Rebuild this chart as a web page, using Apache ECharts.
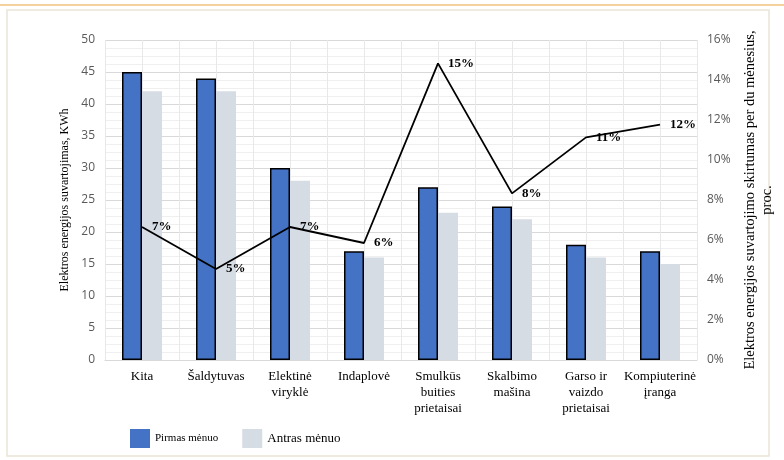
<!DOCTYPE html>
<html>
<head>
<meta charset="utf-8">
<script src="https://cdn.jsdelivr.net/npm/echarts@6/dist/echarts.min.js"></script>
<style>
html,body{margin:0;padding:0;background:#fff;}
#c{width:784px;height:460px;}
</style>
</head>
<body>
<div id="c"></div>
<script>
const categories = ["Kita", "Šaldytuvas", "Elektinė\nviryklė", "Indaplovė", "Smulkūs\nbuities\nprietaisai", "Skalbimo\nmašina", "Garso ir\nvaizdo\nprietaisai", "Kompiuterinė\nįranga"];
const firstMonth = [45, 44, 30, 17, 27, 24, 18, 17];
const secondMonth = [42, 42, 28, 16, 23, 22, 16, 15];
const diffPercent = [6.65, 4.55, 6.65, 5.85, 14.83, 8.33, 11.13, 11.77];
const leftTicks = {min: 0, max: 50, interval: 5};
const rightTicks = {min: 0, max: 16, interval: 2};

const serif = 'Liberation Serif';
const sans = 'Open Sans';
const halfSlots = [];
for (let i = 0; i < categories.length * 2; i++) halfSlots.push('');

const chart = echarts.init(document.getElementById('c'));
chart.setOption({
  animation: false,
  backgroundColor: '#fff',
  graphic: [
    {type: 'line', shape: {x1: 0, y1: 5, x2: 784, y2: 5}, style: {stroke: '#f5c27a', lineWidth: 1.5}},
    {type: 'rect', shape: {x: 7, y: 10, width: 762, height: 446}, style: {fill: 'none', stroke: '#ebe5d8', lineWidth: 1.5}}
  ],
  legend: {
    data: ['Pirmas mėnuo', 'Antras mėnuo'],
    left: 125, top: 424,
    itemWidth: 20, itemHeight: 19, itemGap: 24,
    icon: 'rect',
    itemStyle: {borderWidth: 0},
    formatter: function (name) {
      return name === 'Pirmas mėnuo' ? '{s|' + name + '}' : '{b|' + name + '}';
    },
    textStyle: {
      fontFamily: serif, color: '#000',
      rich: {s: {fontFamily: serif, fontSize: 11, color: '#000'}, b: {fontFamily: serif, fontSize: 13, color: '#000'}}
    }
  },
  grid: {left: 105, right: 79, top: 40, bottom: 100},
  xAxis: [
    {
      type: 'category', data: categories,
      axisLine: {show: true, lineStyle: {color: '#d9d9d9'}},
      axisTick: {show: false},
      splitLine: {show: true, interval: 0, lineStyle: {color: '#e8e8e8'}},
      axisLabel: {interval: 0, fontFamily: serif, fontSize: 13, color: '#000', lineHeight: 16, margin: 9}
    },
    {
      type: 'category', data: halfSlots, position: 'bottom',
      axisLine: {show: false}, axisTick: {show: false}, axisLabel: {show: false},
      splitLine: {show: true, interval: 0, lineStyle: {color: '#e8e8e8'}}
    }
  ],
  yAxis: [
    {
      type: 'value', min: leftTicks.min, max: leftTicks.max, interval: leftTicks.interval,
      name: 'Elektros energijos suvartojimas, KWh',
      nameLocation: 'middle', nameGap: 33, nameRotate: 90,
      nameTextStyle: {fontFamily: serif, fontSize: 12, color: '#000'},
      axisLine: {show: false}, axisTick: {show: false},
      axisLabel: {fontFamily: sans, fontSize: 12, color: '#595959', margin: 10},
      splitLine: {show: true, lineStyle: {color: '#d9d9d9'}},
      minorTick: {show: false, splitNumber: 4},
      minorSplitLine: {show: true, lineStyle: {color: '#efefef'}}
    },
    {
      type: 'value', min: rightTicks.min, max: rightTicks.max, interval: rightTicks.interval,
      position: 'right',
      name: 'Elektros energijos suvartojimo skirtumas per du mėnesius,\nproc.',
      nameLocation: 'middle', nameGap: 45, nameRotate: 90,
      nameTextStyle: {fontFamily: serif, fontSize: 14.5, color: '#000', lineHeight: 17},
      axisLine: {show: false}, axisTick: {show: false},
      axisLabel: {fontFamily: sans, fontSize: 12, color: '#595959', margin: 10, formatter: '{value}%'},
      splitLine: {show: false}
    }
  ],
  series: [
    {
      name: 'Pirmas mėnuo', type: 'bar', data: firstMonth, barWidth: 20, barGap: '0%',
      itemStyle: {color: '#4472C4', borderColor: '#000', borderWidth: 1.5}
    },
    {
      name: 'Antras mėnuo', type: 'bar', data: secondMonth, barWidth: 20, barGap: '0%',
      itemStyle: {color: '#D6DCE4'}
    },
    {
      name: 'Skirtumas', type: 'line', yAxisIndex: 1, data: diffPercent,
      symbol: 'circle', symbolSize: 0, showSymbol: true,
      itemStyle: {color: '#000'},
      lineStyle: {color: '#000', width: 1.8},
      label: {
        show: true, position: 'right', distance: 10,
        fontFamily: serif, fontSize: 13, fontWeight: 'bold', color: '#000',
        formatter: function (p) { return Math.round(p.value) + '%'; }
      },
      labelLayout: {hideOverlap: false}
    }
  ]
});
</script>
</body>
</html>
